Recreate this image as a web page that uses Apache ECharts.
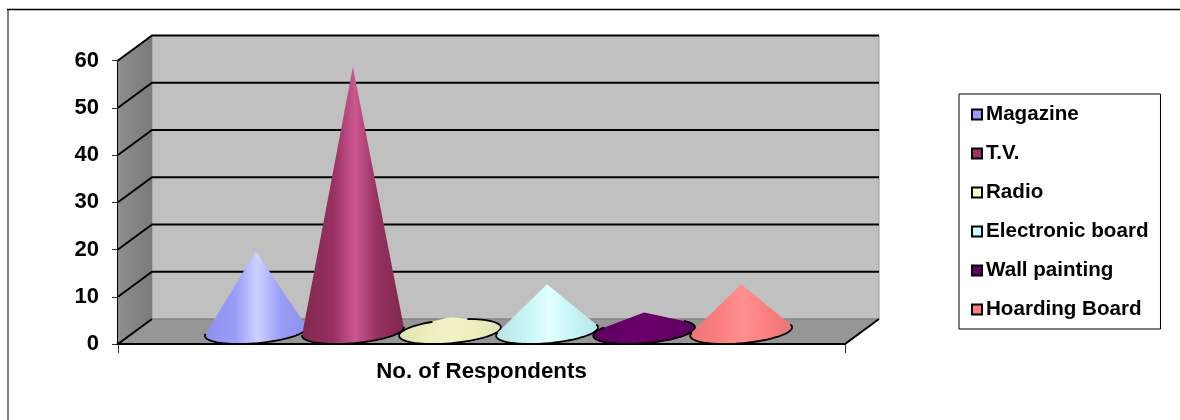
<!DOCTYPE html>
<html>
<head>
<meta charset="utf-8">
<style>html,body{margin:0;padding:0;background:#fff}#chart{width:1180px;height:420px}</style>
<script src="https://cdn.jsdelivr.net/npm/echarts@6/dist/echarts.min.js"></script>
</head>
<body>
<div id="chart"></div>
<script>
// Media channels and how many respondents named each one
const categories = ['Magazine', 'T.V.', 'Radio', 'Electronic board', 'Wall painting', 'Hoarding Board'];
const respondents = [17, 56, 3, 10, 4, 10];
const groupLabel = ['No. of Respondents'];
const yTicks = [0, 10, 20, 30, 40, 50, 60];

// Cone shading: edge tone, lit tone, matching the legend swatch in baseColors
const baseColors = ['#9999FF', '#993366', '#FFFFCC', '#CCFFFF', '#660066', '#FF8080'];
const bodyColors = ['#9a9df8', '#97305f', '#eeeebd', '#c8f5f5', '#650065', '#fb8080'];
const edgeColors = ['#8d91ea', '#80284f', '#e2e2b2', '#b8e4e4', '#5e005e', '#ec7474'];
const litColors = ['#ced1ff', '#cb5690', '#f2f2c6', '#e2ffff', '#6a006a', '#ff9090'];

// Oblique projection of the 3D box
const DEPTH_X = 34;
const DEPTH_Y = -25;
const CONE_STEP = 0.1335;   // spacing of cones as a share of the band
const CONE_HALF = 0.066;    // base half-width as a share of the band

function conePath(cx, cy, apexY, w, dx, dy) {
  // The base is a circle sheared into the floor: P(t) = C + u cos t + v sin t
  const pt = t => [cx + w * Math.cos(t) + dx * Math.sin(t), cy + dy * Math.sin(t)];
  const h = cy - apexY;
  const q = h / -dy;
  const p = -dx * q / w;
  const r = Math.hypot(p, q);
  const theta = Math.atan2(q, p);
  const a = Math.acos(1 / Math.max(r, 1.0001));
  const arc = (from, to, n) => {
    const out = [];
    for (let i = 0; i <= n; i++) out.push(pt(from + (to - from) * i / n));
    return out;
  };
  const body = [[cx, apexY], ...arc(theta + a, theta - a + 2 * Math.PI, 60)];
  // Very flat cones leave the rim showing nearly all the way round
  const gap = r < 1.3 ? 0.35 : a;
  const rim = arc(theta + gap, theta - gap + 2 * Math.PI, 72);
  return { body, rim };
}

function coneSeries(name, idx) {
  return {
    name,
    type: 'custom',
    coordinateSystem: 'cartesian2d',
    z: 5 + idx,
    itemStyle: { color: baseColors[idx], borderColor: '#000', borderWidth: 1 },
    data: [[0, respondents[idx]]],
    renderItem(params, api) {
      const band = api.size([1, 0])[0];
      const base = api.coord([0, 0]);
      const top = api.coord([0, api.value(1)]);
      const cx = base[0] + DEPTH_X / 2 + (idx - 2.5) * CONE_STEP * band;
      const cy = base[1] + DEPTH_Y / 2;
      const apexY = top[1] + DEPTH_Y / 2;
      const w = CONE_HALF * band;
      const { body, rim } = conePath(cx, cy, apexY, w, DEPTH_X / 2, DEPTH_Y / 2);
      const half = Math.hypot(w, DEPTH_X / 2);
      const fill = new echarts.graphic.LinearGradient(cx - half, 0, cx + half, 0, [
        { offset: 0, color: edgeColors[idx] },
        { offset: 0.3, color: bodyColors[idx] },
        { offset: 0.52, color: litColors[idx] },
        { offset: 0.74, color: bodyColors[idx] },
        { offset: 1, color: edgeColors[idx] }
      ], true);
      return {
        type: 'group',
        children: [
          { type: 'polygon', shape: { points: body }, style: { fill, stroke: 'none' } },
          { type: 'polyline', shape: { points: rim },
            style: { fill: 'none', stroke: '#000', lineWidth: 1.8 } }
        ]
      };
    }
  };
}

// Side wall, back wall and floor of the box, sized from the axes' own scale
const wallSeries = {
  type: 'custom',
  coordinateSystem: 'cartesian2d',
  silent: true,
  z: 1,
  data: [[0, 0]],
  renderItem(params, api) {
    const o = api.coord([0, 0]);
    const t = api.coord([0, 60]);
    const band = api.size([1, 0])[0];
    const x0 = o[0] - band / 2, x1 = o[0] + band / 2;
    const y0 = o[1], y1 = t[1];
    const dx = DEPTH_X, dy = DEPTH_Y;
    return {
      type: 'group',
      children: [
        { type: 'polygon', shape: { points: [[x0 + dx, y1 + dy], [x1 + dx, y1 + dy], [x1 + dx, y0 + dy], [x0 + dx, y0 + dy]] },
          style: { fill: '#c0c0c0', stroke: '#9a9a9a', lineWidth: 1 } },
        { type: 'polygon', shape: { points: [[x0, y1], [x0 + dx, y1 + dy], [x0 + dx, y0 + dy], [x0, y0]] },
          style: { fill: new echarts.graphic.LinearGradient(x0, 0, x0 + dx, 0, [
            { offset: 0, color: '#8e8e8e' }, { offset: 1, color: '#7a7a7a' }], true) } },
        { type: 'polygon', shape: { points: [[x0, y0], [x0 + dx, y0 + dy], [x1 + dx, y0 + dy], [x1, y0]] },
          style: { fill: '#969696', stroke: '#7c7c7c', lineWidth: 1 } }
      ]
    };
  }
};

// One bent gridline per tick: across the side wall, then along the back wall
const gridSeries = {
  type: 'custom',
  coordinateSystem: 'cartesian2d',
  silent: true,
  z: 2,
  data: yTicks.map(v => [0, v]),
  renderItem(params, api) {
    const p = api.coord([0, api.value(1)]);
    const band = api.size([1, 0])[0];
    const x0 = p[0] - band / 2, x1 = p[0] + band / 2;
    const floor = api.value(1) === 0;
    const pts = floor
      ? [[x1 + DEPTH_X, p[1] + DEPTH_Y], [x1, p[1]], [x0, p[1]], [x0 + DEPTH_X, p[1] + DEPTH_Y]]
      : [[x0, p[1]], [x0 + DEPTH_X, p[1] + DEPTH_Y], [x1 + DEPTH_X, p[1] + DEPTH_Y]];
    return { type: 'polyline', shape: { points: pts },
      style: { fill: 'none', stroke: '#000', lineWidth: 2 } };
  }
};

const textStyle = { fontFamily: 'Liberation Sans', fontWeight: 'bold', color: '#000' };

const chart = echarts.init(document.getElementById('chart'), null, { renderer: 'canvas' });
chart.setOption({
  animation: false,
  backgroundColor: '#fff',
  grid: { left: 118, right: 335, top: 60.5, bottom: 76 },
  // Chart area frame: open on the right and at the bottom
  graphic: [
    { type: 'polyline', silent: true, shape: { points: [[8, 420], [8, 9.5]] },
      style: { stroke: '#808080', lineWidth: 2, fill: 'none' } },
    { type: 'polyline', silent: true, shape: { points: [[7, 9.5], [1180, 9.5]] },
      style: { stroke: '#000', lineWidth: 1.5, fill: 'none' } }
  ],
  xAxis: {
    type: 'category',
    data: groupLabel,
    axisLine: { show: true, lineStyle: { color: '#000', width: 2 } },
    axisTick: { show: true, alignWithLabel: false, length: 9, lineStyle: { color: '#333', width: 1 } },
    axisLabel: { ...textStyle, fontSize: 22.3, margin: 17 }
  },
  yAxis: {
    type: 'value',
    min: 0,
    max: 60,
    interval: 10,
    axisLine: { show: true, lineStyle: { color: '#000', width: 2 } },
    axisTick: { show: true, length: 6, lineStyle: { color: '#333', width: 1 } },
    axisLabel: { ...textStyle, fontSize: 22, margin: 19 },
    splitLine: { show: false }
  },
  legend: {
    orient: 'vertical',
    left: 959,
    top: 94,
    padding: [10, 12, 9, 12],
    itemGap: 18,
    itemWidth: 10,
    itemHeight: 10,
    icon: 'rect',
    borderColor: '#000',
    borderWidth: 1,
    data: categories,
    textStyle: { ...textStyle, fontSize: 20.6, lineHeight: 20, padding: [0, 0, 0, -1] }
  },
  series: [wallSeries, gridSeries, ...categories.map(coneSeries)]
});
</script>
</body>
</html>
